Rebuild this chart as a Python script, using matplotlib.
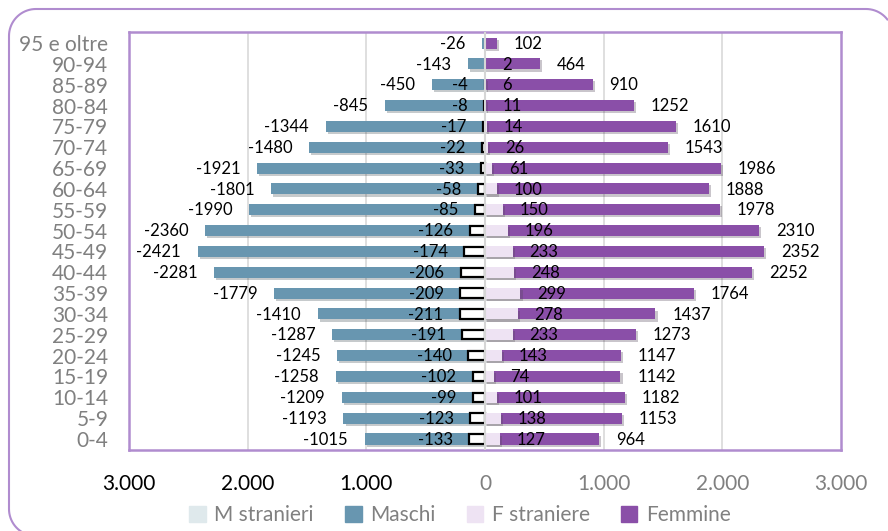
import numpy as np
import matplotlib
matplotlib.use('Agg')
import matplotlib.pyplot as plt
import matplotlib.patches as mpatches
import matplotlib.patheffects as pe
from matplotlib import ticker
from matplotlib.lines import Line2D
from matplotlib.transforms import IdentityTransform

plt.rcParams['font.family'] = ['Lato', 'DejaVu Sans']

# classi di eta', dal basso verso l'alto
classi = ['0-4', '5-9', '10-14', '15-19', '20-24', '25-29', '30-34', '35-39',
          '40-44', '45-49', '50-54', '55-59', '60-64', '65-69', '70-74',
          '75-79', '80-84', '85-89', '90-94', '95 e oltre']
maschi = [-1015, -1193, -1209, -1258, -1245, -1287, -1410, -1779, -2281, -2421,
          -2360, -1990, -1801, -1921, -1480, -1344, -845, -450, -143, -26]
m_stranieri = [-133, -123, -99, -102, -140, -191, -211, -209, -206, -174,
               -126, -85, -58, -33, -22, -17, -8, -4, np.nan, np.nan]
femmine = [964, 1153, 1182, 1142, 1147, 1273, 1437, 1764, 2252, 2352,
           2310, 1978, 1888, 1986, 1543, 1610, 1252, 910, 464, 102]
f_straniere = [127, 138, 101, 74, 143, 233, 278, 299, 248, 233,
               196, 150, 100, 61, 26, 14, 11, 6, 2, np.nan]

c_maschi = '#6896b0'
c_femmine = '#8a4fa8'
c_fstr = '#eee3f3'
c_mstr_leg = '#dfe9ec'
viola = '#b08ccf'

fig = plt.figure(figsize=(8.88, 5.31), dpi=100)
ax = fig.add_axes([0.1453, 0.1525, 0.8017, 0.7872])

# cornice arrotondata esterna, in pixel: solo lati sinistro e superiore
r = 27
W = fig.bbox.width
L, T, B, R = 9, fig.bbox.height - 9, -5, 893
t1 = np.linspace(np.pi, 1.5 * np.pi, 20)        # angolo in basso a sinistra
t2 = np.linspace(np.pi, 0.5 * np.pi, 20)        # angolo in alto a sinistra
t3 = np.linspace(0.5 * np.pi, 0.0, 20)          # angolo in alto a destra
fx = np.concatenate([L + r + r * np.cos(t1)[::-1], L + r + r * np.cos(t2),
                     R - r + r * np.cos(t3)])
fy = np.concatenate([B + r + r * np.sin(t1)[::-1], T - r + r * np.sin(t2),
                     T - r + r * np.sin(t3)])
keep = fx <= W
fig.lines.append(Line2D(fx[keep], fy[keep], transform=IdentityTransform(),
                        color=viola, lw=1.5))

y = np.arange(len(classi))
h = 0.53
shadow = [pe.SimplePatchShadow(offset=(1.5, -1.5), alpha=0.25), pe.Normal()]

b1 = ax.barh(y, maschi, height=h, color=c_maschi, zorder=2)
b2 = ax.barh(y, m_stranieri, height=h * 0.85, color='white',
             edgecolor='black', linewidth=1.6, zorder=3)
b3 = ax.barh(y, femmine, height=h, color=c_femmine, zorder=2)
b4 = ax.barh(y, f_straniere, height=h, color=c_fstr, zorder=3)
for bars in (b1, b3, b4):
    for b in bars:
        b.set_path_effects(shadow)

def etichette(vals, side):
    for yi, v in zip(y, vals):
        if np.isnan(v):
            continue
        ax.annotate('%d' % v, (v, yi), xytext=(12 * side, -0.5),
                    textcoords='offset points',
                    ha='left' if side > 0 else 'right', va='center',
                    fontsize=12, color='black', zorder=5)

etichette(maschi, -1)
etichette(m_stranieri, -1)
etichette(femmine, 1)
etichette(f_straniere, 1)

ax.set_xlim(-3000, 3000)
ax.set_ylim(-0.53, len(classi) - 0.47)
ax.set_yticks(y)
ax.set_yticklabels(classi)
ax.set_xticks(np.arange(-3000, 3001, 1000))
ax.xaxis.set_major_formatter(ticker.FuncFormatter(
    lambda v, p: '{:,.0f}'.format(abs(v)).replace(',', '.')))
ax.tick_params(axis='y', length=0, pad=15, labelsize=15, labelcolor='#808080')
ax.tick_params(axis='x', length=0, pad=17, labelsize=15, labelcolor='#808080')
for lab, v in zip(ax.get_xticklabels(), ax.get_xticks()):
    if v < 0:
        lab.set_color('black')

for xv in (-2000, -1000, 1000, 2000):
    ax.axvline(xv, color='#d9d9d9', lw=1.2, zorder=1)
ax.axvline(0, color='#d6d6d6', lw=1.5, zorder=4)

for s in ax.spines.values():
    s.set_color(viola)
    s.set_linewidth(1.8)

handles = [mpatches.Patch(color=c_mstr_leg, label='M stranieri'),
           mpatches.Patch(color=c_maschi, label='Maschi'),
           mpatches.Patch(color=c_fstr, label='F straniere'),
           mpatches.Patch(color=c_femmine, label='Femmine')]
leg = fig.legend(handles=handles, loc='center', bbox_to_anchor=(0.518, 0.03),
                 ncol=4, frameon=False, fontsize=15, handlelength=0.8,
                 handleheight=0.8, handletextpad=0.4, columnspacing=1.5)
for t in leg.get_texts():
    t.set_color('#808080')

fig.savefig('out.png', dpi=100)
